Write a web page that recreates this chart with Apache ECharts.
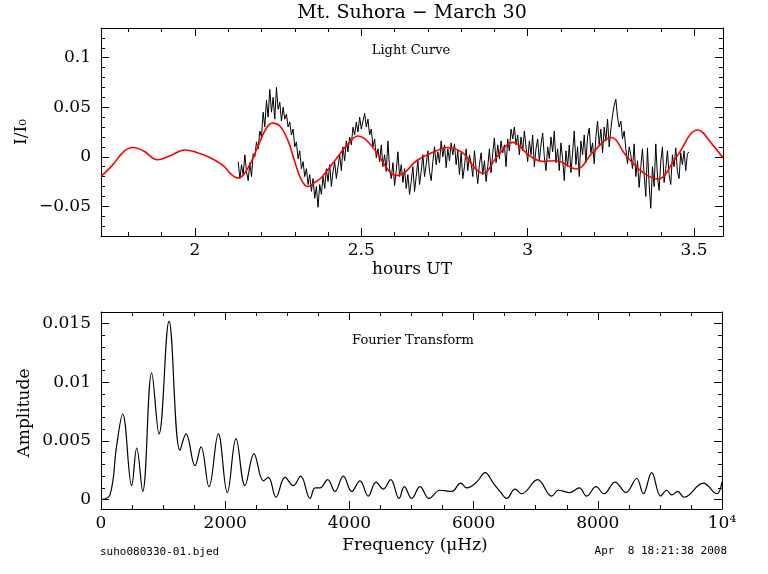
<!DOCTYPE html>
<html>
<head>
<meta charset="utf-8">
<script src="https://cdn.jsdelivr.net/npm/echarts@6/dist/echarts.min.js"></script>
<style>html,body{margin:0;padding:0;background:#fff}#c{width:768px;height:574px}</style>
</head>
<body>
<div id="c"></div>
<script>
// ---------- Light curve (observed) : regular cadence samples ----------
const lcT0 = 2.130;   // hours UT of first sample
const lcDt = 0.005;   // cadence in hours
const lcFlux = [
 -0.005,-0.022,-0.008,-0.018,0.002,-0.015,-0.024,-0.006,-0.020,0.003,
 0.000,0.015,0.008,0.026,0.020,0.045,0.030,0.057,0.040,0.068,
 0.045,0.060,0.038,0.070,0.048,0.055,0.036,0.050,0.038,0.043,
 0.030,0.035,0.022,0.028,0.010,0.015,-0.002,0.006,-0.012,-0.005,
 -0.020,-0.012,-0.028,-0.018,-0.035,-0.022,-0.042,-0.030,-0.051,-0.028,
 -0.038,-0.020,-0.032,-0.012,-0.025,-0.008,-0.030,-0.015,-0.005,-0.022,
 -0.010,0.002,-0.014,0.010,-0.004,0.016,0.005,0.020,0.012,0.030,
 0.022,0.035,0.025,0.040,0.028,0.036,0.044,0.030,0.038,0.022,
 0.028,0.010,0.018,-0.001,0.008,-0.005,0.012,-0.010,0.002,-0.015,
 0.016,-0.012,-0.022,-0.006,-0.029,-0.014,0.005,-0.020,-0.008,-0.026,
 -0.012,-0.032,-0.018,-0.038,-0.025,-0.010,-0.035,-0.020,-0.004,-0.028,
 -0.015,0.002,-0.020,-0.008,0.006,-0.015,-0.024,-0.005,0.010,-0.008,
 0.005,-0.006,0.016,0.000,0.012,-0.011,0.008,-0.004,0.014,0.002,
 0.013,-0.008,0.006,-0.018,0.004,-0.022,-0.010,0.008,-0.014,0.002,
 -0.006,-0.020,0.006,-0.012,-0.027,-0.008,0.004,-0.018,-0.004,-0.025,
 -0.010,0.008,-0.016,0.004,0.019,-0.006,0.012,-0.002,0.016,0.004,
 0.012,-0.010,0.018,0.006,0.028,0.018,0.030,0.012,0.022,0.002,
 0.020,0.006,0.026,0.010,-0.005,0.016,0.002,0.022,-0.010,0.008,
 0.018,-0.004,0.012,0.024,0.000,-0.014,0.010,-0.002,0.020,0.005,
 0.026,-0.006,0.008,-0.014,0.014,-0.002,-0.024,0.006,-0.010,0.012,
 -0.016,0.004,0.026,-0.008,0.010,-0.020,0.016,0.002,0.022,-0.006,
 0.020,0.029,0.004,0.014,-0.007,0.020,0.036,0.012,0.028,0.004,
 0.030,0.016,0.038,0.010,0.028,0.042,0.052,0.058,0.040,0.030,
 0.036,0.018,0.026,0.008,-0.007,0.010,0.002,-0.012,0.013,-0.020,
 -0.004,-0.031,-0.010,0.008,-0.018,-0.040,0.009,-0.028,-0.052,-0.010,
 -0.030,0.013,-0.020,-0.034,-0.005,0.010,-0.026,-0.012,0.006,-0.018,
 -0.028,0.002,-0.010,0.009,-0.015,-0.022,0.004,-0.008,0.006,-0.014,
 0.003,0.005
];
// ---------- Light curve (fit, red) ----------
const fitHours = [1.718,1.755,1.785,1.813,1.845,1.888,1.925,1.970,2.005,2.045,2.085,2.110,2.130,2.160,2.190,2.210,2.232,2.255,2.280,2.300,2.318,2.338,2.360,2.380,2.420,2.460,2.490,2.535,2.576,2.603,2.630,2.666,2.726,2.756,2.805,2.840,2.866,2.906,2.956,3.006,3.045,3.086,3.146,3.196,3.251,3.296,3.346,3.391,3.446,3.511,3.556,3.587];
const fitFlux  = [-0.0199,-0.0074,0.005,0.0094,0.006,-0.003,0.001,0.0068,0.0044,-0.0007,-0.009,-0.018,-0.0215,-0.011,0.011,0.026,0.034,0.031,0.016,-0.005,-0.022,-0.030,-0.026,-0.021,-0.004,0.013,0.021,0.0094,-0.011,-0.019,-0.016,-0.004,0.006,0.0094,0.004,-0.011,-0.0168,-0.0007,0.0145,0.001,-0.0047,-0.004,-0.0124,0.0044,0.0195,0.001,-0.0158,-0.0225,-0.0007,0.027,0.012,-0.0013];
// ---------- Fourier transform ----------
const ftFreq = [0,145,252,349,494,575,671,816,934,1095,1272,1369,1514,1610,1739,1889,2034,2174,2319,2464,2614,2695,2818,2963,3097,3215,3366,3446,3527,3650,3768,3902,4037,4171,4304,4428,4546,4665,4799,4884,5003,5137,5282,5459,5647,5792,5888,6050,6184,6318,6425,6533,6667,6774,7030,7257,7364,7552,7702,7821,7971,8100,8277,8454,8626,8733,8868,9013,9110,9190,9287,9388,9699,9914,10000];
const ftAmp  = [0,0.0004,0.0046,0.0073,0.0012,0.0044,0.0007,0.0108,0.0056,0.0152,0.0042,0.0056,0.0029,0.0045,0.0011,0.0056,0.0006,0.0052,0.0012,0.0039,0.0016,0.0019,0.0002,0.0019,0.0012,0.0020,0.0001,0.0010,0.0010,0.0017,0.0007,0.0020,0.0007,0.0016,0.0003,0.0015,0.0009,0.0017,0.0001,0.0011,0.0001,0.0011,0.0001,0.0008,0.0007,0.0014,0.0010,0.0015,0.0023,0.0014,0.0007,0.0001,0.0009,0.0005,0.0017,0.0003,0.0008,0.0006,0.0010,0.0003,0.0011,0.0005,0.0015,0.0006,0.0018,0.0005,0.0023,0.0003,0.0008,0.0004,0.0007,0.0002,0.0014,0.0005,0.0015];
// ---------- Axis ranges and ticks ----------
const lcXRange = [1.7177, 3.587];
const lcYRange = [-0.08, 0.13];
const lcXMajor = [2, 2.5, 3, 3.5];
const lcXMinor = [1.8,1.9,2.0,2.1,2.2,2.3,2.4,2.5,2.6,2.7,2.8,2.9,3.0,3.1,3.2,3.3,3.4,3.5];
const lcYMajor = [-0.05, 0, 0.05, 0.1];
const lcYMinor = [-0.07,-0.06,-0.05,-0.04,-0.03,-0.02,-0.01,0,0.01,0.02,0.03,0.04,0.05,0.06,0.07,0.08,0.09,0.1,0.11,0.12];
const ftXRange = [0, 10000];
const ftYRange = [-0.0008, 0.016];
const ftXMajor = [0, 2000, 4000, 6000, 8000, 10000];
const ftXMinor = [500,1000,1500,2000,2500,3000,3500,4000,4500,5000,5500,6000,6500,7000,7500,8000,8500,9000,9500];
const ftYMajor = [0, 0.005, 0.01, 0.015];
const ftYMinor = [0.001,0.002,0.003,0.004,0.005,0.006,0.007,0.008,0.009,0.010,0.011,0.012,0.013,0.014,0.015];

const FONT = 'DejaVu Serif';
function fmtNum(v){ return v < 0 ? '\u2212' + String(-v) : String(v); }
function fmtFreq(v){ return v === 10000 ? '10\u2074' : String(v); }

function mkAxis(grid, pos, range, ticks, len, line, labels, fmt, isX){
  return {
    type:'value', gridIndex:grid, position:pos, min:range[0], max:range[1],
    axisLine:{show:line, onZero:false, lineStyle:{color:'#000', width:1}},
    axisTick:{show:true, inside:true, length:len, customValues:ticks, lineStyle:{color:'#000', width:1}},
    axisLabel: labels ? {show:true, customValues:labels, formatter:fmt, showMinLabel:true, showMaxLabel:true,
       color:'#000', fontFamily:FONT, fontSize:17, margin: isX ? 6 : 10} : {show:false},
    splitLine:{show:false}, minorTick:{show:false}, minorSplitLine:{show:false}
  };
}

const xAxes = [
  mkAxis(0,'bottom',lcXRange,lcXMajor,8,true,lcXMajor,fmtNum,true),
  mkAxis(0,'bottom',lcXRange,lcXMinor,4,false,null,null,true),
  mkAxis(0,'top',lcXRange,lcXMajor,8,true,null,null,true),
  mkAxis(0,'top',lcXRange,lcXMinor,4,false,null,null,true),
  mkAxis(1,'bottom',ftXRange,ftXMajor,8,true,ftXMajor,fmtFreq,true),
  mkAxis(1,'bottom',ftXRange,ftXMinor,4,false,null,null,true),
  mkAxis(1,'top',ftXRange,ftXMajor,8,true,null,null,true),
  mkAxis(1,'top',ftXRange,ftXMinor,4,false,null,null,true)
];
const yAxes = [
  mkAxis(0,'left',lcYRange,lcYMajor,8,true,lcYMajor,fmtNum,false),
  mkAxis(0,'left',lcYRange,lcYMinor,4,false,null,null,false),
  mkAxis(0,'right',lcYRange,lcYMajor,8,true,null,null,false),
  mkAxis(0,'right',lcYRange,lcYMinor,4,false,null,null,false),
  mkAxis(1,'left',ftYRange,ftYMajor,8,true,ftYMajor,fmtNum,false),
  mkAxis(1,'left',ftYRange,ftYMinor,4,false,null,null,false),
  mkAxis(1,'right',ftYRange,ftYMajor,8,true,null,null,false),
  mkAxis(1,'right',ftYRange,ftYMinor,4,false,null,null,false)
];

const lcData = lcFlux.map((v,i)=>[lcT0 + i*lcDt, v]);
const fitData = fitHours.map((h,i)=>[h, fitFlux[i]]);
const ftData = ftFreq.map((f,i)=>[f, ftAmp[i]]);

function txt(x,y,text,size,opts){
  return Object.assign({type:'text', x:x, y:y, silent:true,
    style:{text:text, fill:'#000', font: size + 'px ' + (opts && opts.family || FONT),
      align:(opts && opts.align)||'center', verticalAlign:'middle'}},
    opts && opts.rot ? {rotation:opts.rot} : {});
}

const chart = echarts.init(document.getElementById('c'), null, {renderer:'canvas'});
chart.setOption({
  animation:false,
  backgroundColor:'#fff',
  grid:[
    {left:101, top:28, width:622, height:208, containLabel:false},
    {left:101, top:312, width:621, height:197, containLabel:false}
  ],
  xAxis:xAxes,
  yAxis:yAxes,
  series:[
    {type:'line', xAxisIndex:0, yAxisIndex:0, data:lcData, showSymbol:false, symbol:'none',
     lineStyle:{color:'#000', width:1}, z:2},
    {type:'line', xAxisIndex:0, yAxisIndex:0, data:fitData, showSymbol:false, symbol:'none', smooth:0.4,
     lineStyle:{color:'#ff0000', width:1.6}, z:3},
    {type:'line', xAxisIndex:4, yAxisIndex:4, data:ftData, showSymbol:false, symbol:'none', smooth:0.4,
     lineStyle:{color:'#000', width:1.2}, z:2}
  ],
  graphic:[
    txt(412,13,'Mt. Suhora \u2212 March 30',19),
    txt(411,51,'Light Curve',13),
    txt(412,270,'hours UT',17),
    txt(22,132,'I/I\u2080',17,{rot:Math.PI/2}),
    txt(413,341,'Fourier Transform',13),
    txt(415,546,'Frequency (\u03bcHz)',17),
    txt(25,413,'Amplitude',17,{rot:Math.PI/2}),
    txt(100,552,'suho080330-01.bjed',11,{align:'left', family:'DejaVu Sans Mono'}),
    txt(727,551,'Apr  8 18:21:38 2008',11,{align:'right', family:'DejaVu Sans Mono'})
  ]
});
</script>
</body>
</html>
